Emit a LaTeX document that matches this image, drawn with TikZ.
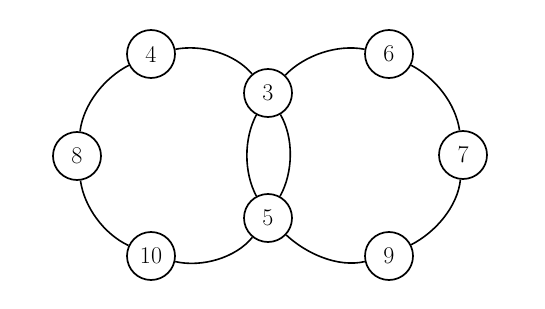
\documentclass[tikz,border=0pt]{standalone}
\usepackage{fontspec}
\tikzset{
  vtx/.style={circle,draw,line width=1.7pt,fill=white,minimum size=48pt,inner sep=0pt,font=\fontsize{24}{26}\selectfont},
  edge/.style={line width=1.6pt,looseness=0.85}
}
\begin{document}
\begin{tikzpicture}[x=1pt,y=1pt]
\useasboundingbox (0,0) rectangle (545,308);
\node[vtx] (n4) at (151,254) {4};
\node[vtx] (n3) at (268,215) {3};
\node[vtx] (n6) at (389,254) {6};
\node[vtx] (n8) at (77,152) {8};
\node[vtx] (n7) at (463,153) {7};
\node[vtx] (n5) at (268,90) {5};
\node[vtx] (n10) at (151,52) {10};
\node[vtx] (n9) at (389,52) {9};
\draw[edge] (n4) to[out=11,in=130] (n3);
\draw[edge] (n4) to[out=207,in=83] (n8);
\draw[edge] (n8) to[out=278,in=155] (n10);
\draw[edge] (n10) to[out=347,in=231] (n5);
\draw[edge] (n3) to[out=242,in=118] (n5);
\draw[edge] (n3) to[out=300,in=61] (n5);
\draw[edge] (n3) to[out=46,in=169] (n6);
\draw[edge] (n6) to[out=333,in=98] (n7);
\draw[edge] (n7) to[out=264,in=27] (n9);
\draw[edge] (n9) to[out=193,in=317] (n5);
\end{tikzpicture}
\end{document}
